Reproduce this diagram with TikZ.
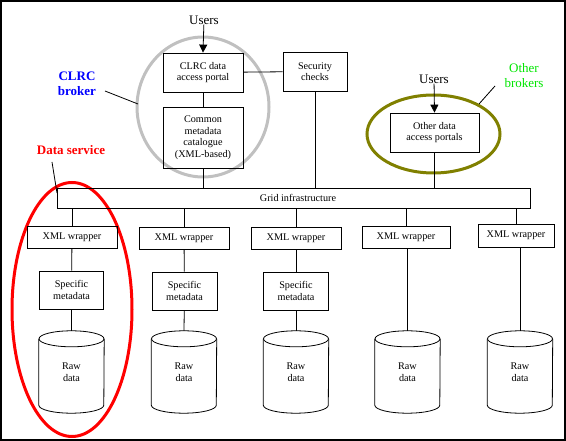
\documentclass[tikz,border=0pt]{standalone}
\usepackage{fontspec}
\setmainfont{Liberation Serif}
\usetikzlibrary{arrows.meta,calc}
\definecolor{ringgrey}{RGB}{192,192,192}
\definecolor{ringolive}{RGB}{128,128,0}
\definecolor{lblblue}{RGB}{0,0,255}
\definecolor{lblgreen}{RGB}{0,230,0}
\definecolor{lblred}{RGB}{255,0,0}
\tikzset{
  box/.style={draw,line width=0.8pt,align=center,inner sep=1pt,font=\fontsize{10.2}{11.5}\selectfont},
  conn/.style={line width=0.8pt},
  ring/.style={line width=3pt},
  usr/.style={font=\fontsize{13}{14}\selectfont,inner sep=0pt},
  lbl/.style={font=\fontsize{13}{15}\selectfont,align=center,inner sep=0pt},
  cylbody/.style={align=center,inner sep=0pt,minimum width=65pt,minimum height=82pt,font=\fontsize{10.2}{12}\selectfont},
  arr/.style={conn,-{Triangle[width=8pt,length=8pt]}}
}
\newcommand{\drawcyl}[1]{%
  \draw[conn] ($(#1.north west)+(0,8)$) -- ($(#1.south west)+(0,-8)$)
    arc[start angle=180,end angle=0,x radius=32.5,y radius=8]
    -- ($(#1.north east)+(0,8)$);
  \draw[conn] ($(#1.north)+(0,8)$) ellipse[x radius=32.5,y radius=8];
}
\begin{document}
\begin{tikzpicture}[x=1pt,y=-1pt]
\useasboundingbox (0,0) rectangle (566,441);
\draw[line width=1.5pt] (1,1) rectangle (565,440);

% rings
\draw[ring,ringgrey] (203,107) ellipse[x radius=66,y radius=70];
\draw[ring,ringolive] (433.5,134) ellipse[x radius=66.5,y radius=39];
\draw[ring,lblred] (72,309.5) ellipse[x radius=60,y radius=127];

% top nodes
\node[usr] (u1) at (204,20) {Users};
\node[box,minimum width=80pt,minimum height=39pt] (portal) at (203,72.5) {CLRC data\\access portal};
\node[box,minimum width=80pt,minimum height=61pt] (cat) at (203,137.5) {Common\\metadata\\catalogue\\(XML-based)};
\node[box,minimum width=64pt,minimum height=39pt] (sec) at (315,71.5) {Security\\checks};
\node[usr] (u2) at (434,79) {Users};
\node[box,minimum width=89pt,minimum height=39pt] (oth) at (434.5,132.5) {Other data\\access portals};
\node[box,minimum width=473pt,minimum height=20pt] (grid) at (293.5,198) {};
\node[font=\fontsize{10.2}{11.5}\selectfont,inner sep=0pt] (gridtxt) at (298,197.5) {Grid infrastructure};

% labels
\node[lbl,font=\fontsize{13}{15}\selectfont\bfseries,text=lblblue] (lclrc) at (77,83.5) {CLRC\\broker};
\node[lbl,font=\fontsize{13}{15}\selectfont\bfseries,text=lblred] (lds) at (71,150) {Data service};
\node[lbl,text=lblgreen] (lob) at (524,75.5) {Other\\brokers};
\coordinate (k1a) at (105,91); \coordinate (k1b) at (138,104);
\coordinate (k2a) at (479,104); \coordinate (k2b) at (495,86);
\coordinate (k3a) at (52,162); \coordinate (k3b) at (57,193);
\draw[conn] (k1a) -- (k1b);
\draw[conn] (k2a) -- (k2b);
\draw[conn] (k3a) -- (k3b);

% columns
\node[box,minimum width=90pt,minimum height=22pt] (w1) at (72,237) {XML wrapper};
\node[box,minimum width=90pt,minimum height=22pt] (w2) at (184,238) {XML wrapper};
\node[box,minimum width=90pt,minimum height=22pt] (w3) at (296,238) {XML wrapper};
\node[box,minimum width=88pt,minimum height=22pt] (w4) at (406,237) {XML wrapper};
\node[box,minimum width=76pt,minimum height=23pt] (w5) at (516,235.5) {XML wrapper};

\node[box,minimum width=64pt,minimum height=38pt] (s1) at (71.5,290) {Specific\\metadata};
\node[box,minimum width=65pt,minimum height=38pt] (s2) at (184.5,291) {Specific\\metadata};
\node[box,minimum width=65pt,minimum height=38pt] (s3) at (296,291) {Specific\\metadata};

\node[cylbody] (d1) at (71.5,372) {Raw\\data};
\node[cylbody] (d2) at (184,372) {Raw\\data};
\node[cylbody] (d3) at (296,372) {Raw\\data};
\node[cylbody] (d4) at (407.5,372) {Raw\\data};
\node[cylbody] (d5) at (520,372) {Raw\\data};
\drawcyl{d1}\drawcyl{d2}\drawcyl{d3}\drawcyl{d4}\drawcyl{d5}

% connectors
\draw[arr] (u1) -- (portal.north);
\draw[arr] (u2) -- (oth.north);
\draw[conn] (portal) -- (cat);
\draw[conn] (portal) -- (sec);
\draw[conn] (cat.south) -- (cat.south |- grid.north);
\draw[conn] (sec.south) -- (sec.south |- grid.north);
\draw[conn] (oth.south) -- (oth.south |- grid.north);
\foreach \w in {w1,w2,w3,w4,w5}{
  \draw[conn] (\w.north |- grid.south) -- (\w.north);
}
\draw[conn] (w1) -- (s1); \draw[conn] (s1) -- (d1.north);
\draw[conn] (w2) -- (s2); \draw[conn] (s2) -- (d2.north);
\draw[conn] (w3) -- (s3); \draw[conn] (s3) -- (d3.north);
\draw[conn] (w4.south -| d4.north) -- (d4.north);
\draw[conn] (w5.south -| d5.north) -- (d5.north);
\end{tikzpicture}
\end{document}
